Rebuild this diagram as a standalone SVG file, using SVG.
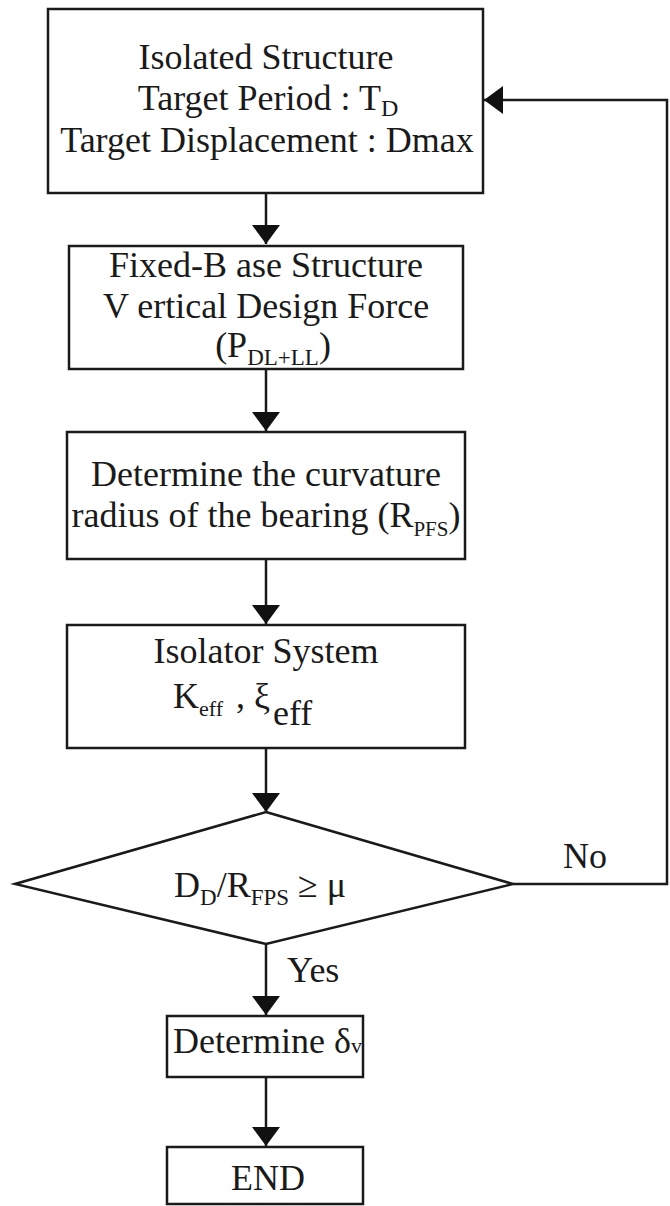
<svg xmlns="http://www.w3.org/2000/svg" width="670" height="1206" viewBox="0 0 670 1206">
<style>
  .box { fill: #ffffff; stroke: #1a1a1a; stroke-width: 2.5; }
  .conn { fill: none; stroke: #1a1a1a; stroke-width: 2.5; }
  text { font-family: "Liberation Serif", "Times New Roman", serif; fill: #1a1a1a; font-size: 36px; }
  .mid { text-anchor: middle; }
</style>
<defs>
  <marker id="ah" markerUnits="userSpaceOnUse" markerWidth="22" markerHeight="32" viewBox="0 -16 22 32" refX="19" refY="0" orient="auto">
    <path d="M0,-14 L19,0 L0,14 z" fill="#111"/>
  </marker>
</defs>
<rect width="670" height="1206" fill="#ffffff"/>

<g id="connectors">
  <path class="conn" d="M266,193 V244" marker-end="url(#ah)"/>
  <path class="conn" d="M266,369 V431" marker-end="url(#ah)"/>
  <path class="conn" d="M266,559 V624" marker-end="url(#ah)"/>
  <path class="conn" d="M266,748 V812" marker-end="url(#ah)"/>
  <path class="conn" d="M266,944 V1015" marker-end="url(#ah)"/>
  <path class="conn" d="M266,1077 V1146" marker-end="url(#ah)"/>
  <path class="conn" d="M513,884 H667 V100 H484" marker-end="url(#ah)"/>
  <text id="label-no" x="563" y="868">No</text>
  <text id="label-yes" x="287" y="982">Yes</text>
</g>

<g id="node-isolated">
  <rect class="box" x="48" y="9" width="435" height="184"/>
  <text class="mid" x="266" y="69">Isolated Structure</text>
  <text class="mid" x="268" y="110">Target Period : T<tspan font-size="24" dy="6">D</tspan></text>
  <text class="mid" x="267" y="152">Target Displacement : Dmax</text>
</g>

<g id="node-fixed">
  <rect class="box" x="69" y="246" width="394" height="123"/>
  <text class="mid" x="266" y="277" font-size="35.5">Fixed-B ase Structure</text>
  <text class="mid" x="266" y="318" font-size="35.5">V ertical Design Force</text>
  <text class="mid" x="273" y="357" font-size="35.5">(P<tspan font-size="23" dy="8">DL+LL</tspan><tspan dy="-8">)</tspan></text>
</g>

<g id="node-radius">
  <rect class="box" x="67" y="432" width="398" height="127"/>
  <text class="mid" x="266" y="486">Determine the curvature</text>
  <text class="mid" x="266" y="527">radius of the bearing (R<tspan font-size="21" dy="9">PFS</tspan><tspan dy="-9">)</tspan></text>
</g>

<g id="node-isolator">
  <rect class="box" x="67" y="625" width="398" height="123"/>
  <text class="mid" x="266" y="663">Isolator System</text>
  <text x="173" y="708">K<tspan font-size="22" dy="8">eff</tspan></text>
  <text x="236" y="708">,</text>
  <text x="254" y="708">ξ</text>
  <text x="273" y="725" font-size="26">eff</text>
</g>

<g id="node-decision">
  <polygon class="box" points="266,812 513,884 266,944 15,884"/>
  <text x="174" y="897">D<tspan font-size="23" dy="8">D</tspan><tspan dy="-8">/R</tspan><tspan font-size="23" dy="8">FPS</tspan><tspan dy="-8"> ≥  μ</tspan></text>
</g>

<g id="node-delta">
  <rect class="box" x="167" y="1016" width="196" height="61"/>
  <text x="173" y="1053" font-size="33">Determine δ<tspan font-size="22">v</tspan></text>
</g>

<g id="node-end">
  <rect class="box" x="167" y="1147" width="196" height="57"/>
  <text class="mid" x="268" y="1190">END</text>
</g>
</svg>
